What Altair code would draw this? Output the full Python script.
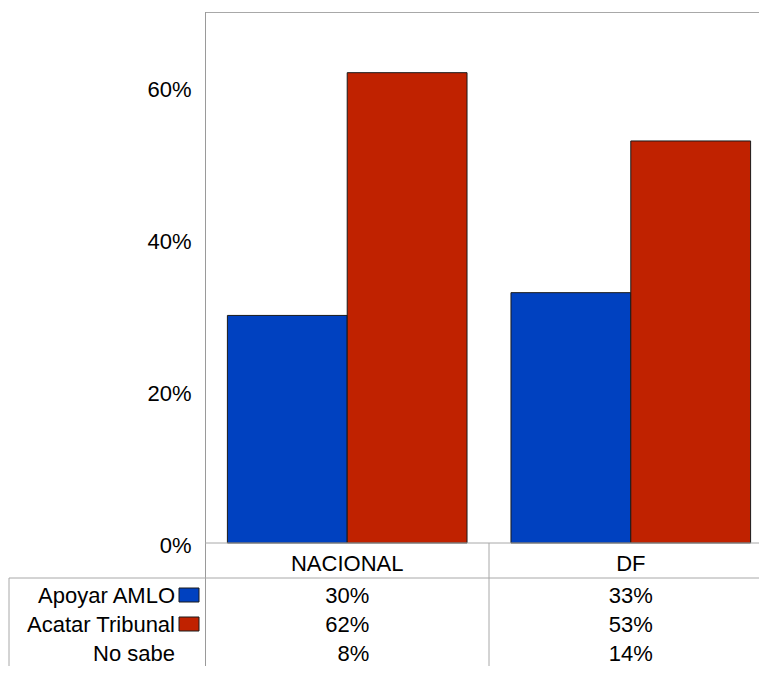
import altair as alt
import pandas as pd

# ---- data -------------------------------------------------------------
categorias = ["NACIONAL", "DF"]
series = ["Apoyar AMLO", "Acatar Tribunal", "No sabe"]
series_barras = ["Apoyar AMLO", "Acatar Tribunal"]
apoyar = [0.30, 0.33]
acatar = [0.62, 0.53]
no_sabe = [0.08, 0.14]
ticks_y = [0, 0.2, 0.4, 0.6]
colores = ["#0041C0", "#C02200"]

valores = {"Apoyar AMLO": apoyar, "Acatar Tribunal": acatar, "No sabe": no_sabe}
filas = []
for s in series:
    for c, v in zip(categorias, valores[s]):
        filas.append({"categoria": c, "serie": s, "valor": v})
df = pd.DataFrame(filas)
df_bars = df[df["serie"].isin(series_barras)]
df_cats = pd.DataFrame({"categoria": categorias})
df_series = pd.DataFrame({"serie": series})
dummy = pd.DataFrame({"k": [0]})

FONT = "Liberation Sans"
FS = 22
GRAY = "#a8a8a8"
PLOT_W = 568
PLOT_H = 531
VIEW_W = 554
BOTTOM = 123
ROW_BASE = [591, 620, 649]      # text baselines of the table rows
LINE_END = PLOT_H + BOTTOM       # table lines run to the bottom edge

x_enc = alt.X(
    "categoria:N",
    sort=categorias,
    scale=alt.Scale(type="band", domain=categorias, range=[0, PLOT_W],
                    paddingInner=0.155, paddingOuter=0.079),
    axis=None,
)
color_enc = alt.Color(
    "serie:N",
    scale=alt.Scale(domain=series_barras, range=colores),
    legend=None,
)

bars = alt.Chart(df_bars).mark_bar(stroke="#1a1a1a", strokeWidth=1, opacity=1).encode(
    x=x_enc,
    xOffset=alt.XOffset("serie:N", sort=series_barras,
                        scale=alt.Scale(domain=series_barras)),
    y=alt.Y(
        "valor:Q",
        scale=alt.Scale(domain=[0, 0.7], nice=False),
        axis=alt.Axis(values=ticks_y, format=".0%", title=None, grid=False,
                      ticks=False, domain=False, labelPadding=14,
                      labelOffset=2, labelFont=FONT, labelFontSize=FS,
                      labelColor="#000000"),
    ),
    color=color_enc,
)


def rule(x, x2, y, y2, color=GRAY, width=1):
    return alt.Chart(dummy).mark_rule(color=color, strokeWidth=width).encode(
        x=alt.value(x), x2=alt.value(x2), y=alt.value(y), y2=alt.value(y2)
    )


rules = [
    rule(0, VIEW_W, 0.5, 0.5),                 # top frame
    rule(0.5, 0.5, 0, LINE_END, "#9a9a9a"),     # left axis line, through table
    rule(0, VIEW_W, PLOT_H, PLOT_H),            # plot bottom
    rule(-196, VIEW_W, 566, 566),               # header bottom
    rule(-196, -196, 566, LINE_END),            # table left border
    rule(284, 284, PLOT_H, LINE_END),           # column divider
]

header = alt.Chart(df_cats).mark_text(
    font=FONT, fontSize=FS, baseline="alphabetic", color="#000000"
).encode(x=x_enc, y=alt.value(559), text="categoria:N")

table_layers = []
for i, s in enumerate(series):
    vals = alt.Chart(df).transform_filter(alt.datum.serie == s).mark_text(
        font=FONT, fontSize=FS, baseline="alphabetic", align="right", dx=22,
        color="#000000"
    ).encode(
        x=x_enc,
        y=alt.value(ROW_BASE[i]),
        text=alt.Text("valor:Q", format=".0%"),
    )
    lab = alt.Chart(df_series).transform_filter(alt.datum.serie == s).mark_text(
        font=FONT, fontSize=FS, baseline="alphabetic", align="right",
        color="#000000"
    ).encode(x=alt.value(-30), y=alt.value(ROW_BASE[i]), text="serie:N")
    table_layers += [vals, lab]
    if s in series_barras:
        key = alt.Chart(df_series).transform_filter(alt.datum.serie == s).mark_rect(
            stroke="#1a1a1a", strokeWidth=1, opacity=1
        ).encode(
            x=alt.value(-26), x2=alt.value(-6),
            y=alt.value(ROW_BASE[i] - 15), y2=alt.value(ROW_BASE[i] - 1),
            color=color_enc,
        )
        table_layers.append(key)

# white mask over the right edge of the view (the plot area continues
# past the visible window in the reference, with no right border)
edge_mask = rule(VIEW_W - 2, VIEW_W - 2, 1.5, PLOT_H - 1, "#ffffff", 5)

chart = alt.layer(
    bars, *rules, header, *table_layers, edge_mask
).properties(
    width=VIEW_W,
    height=PLOT_H,
    autosize=alt.AutoSizeParams(type="none"),
    padding={"left": 197, "top": 4, "right": 0, "bottom": BOTTOM},
).configure_view(stroke="transparent", strokeWidth=0)

chart.save("out.html", embed_options={"renderer": "svg", "actions": False})
